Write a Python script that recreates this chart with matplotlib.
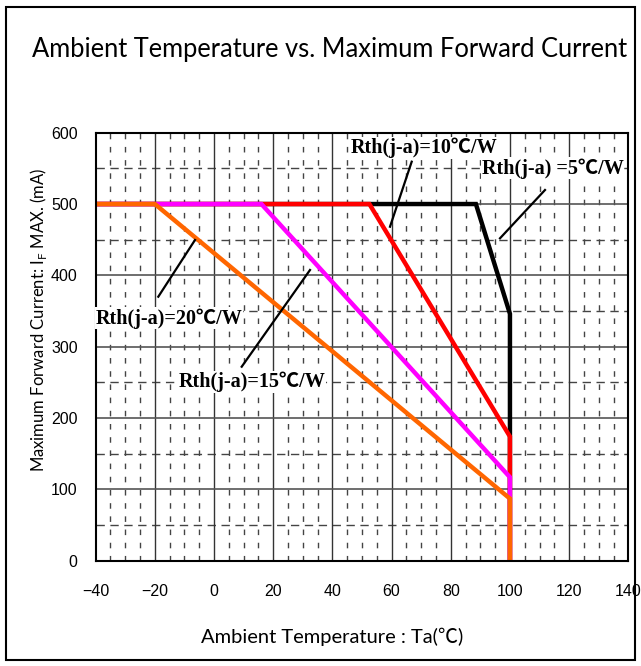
import matplotlib
matplotlib.use("Agg")
import matplotlib.pyplot as plt
from matplotlib.patches import Rectangle
import numpy as np

# Data (derating curves): Ta (°C) vs IF max (mA)
ta_5 = [-40, 88.5, 100, 100]
if_5 = [500, 500, 346, 0]
ta_10 = [-40, 52.5, 100, 100]
if_10 = [500, 500, 174, 0]
ta_15 = [-40, 16, 100, 100]
if_15 = [500, 500, 117, 0]
ta_20 = [-40, -20, 100, 100]
if_20 = [500, 500, 87, 0]

xticks = [-40, -20, 0, 20, 40, 60, 80, 100, 120, 140]
yticks = [0, 100, 200, 300, 400, 500, 600]

W, H = 641, 666
fig = plt.figure(figsize=(W / 100, H / 100), dpi=100)
fig.patch.set_facecolor("white")
fig.patches.append(Rectangle((6 / W, 6 / H), (W - 12) / W, (H - 13) / H,
                             transform=fig.transFigure, fill=False,
                             edgecolor="black", linewidth=1.5))

L, R, T, B = 95.7, 628.3, 132.7, 560.7
ax = fig.add_axes([L / W, 1 - B / H, (R - L) / W, (B - T) / H])
ax.set_xlim(-40, 140)
ax.set_ylim(0, 600)

# grid
for x in np.arange(-35, 140, 5):
    if x % 20 != 0:
        ax.axvline(x, color="#444444", lw=1.0, ls=(0, (4, 5.5)), zorder=1)
for y in [50, 150, 250, 350, 450, 550]:
    ax.axhline(y, color="#444444", lw=1.0, ls=(0, (6, 4)), zorder=1)
for x in xticks[1:-1]:
    ax.axvline(x, color="#333333", lw=1.0, zorder=1.5)
for y in yticks[1:-1]:
    ax.axhline(y, color="#555555", lw=1.2, zorder=1.5)

lw = 3.2
ax.plot(ta_5, if_5, color="black", lw=lw, zorder=3, solid_joinstyle="miter")
ax.plot(ta_10, if_10, color="#ff0000", lw=lw, zorder=4, solid_joinstyle="miter")
ax.plot(ta_15, if_15, color="#ff00ff", lw=lw, zorder=5, solid_joinstyle="miter")
ax.plot(ta_20, if_20, color="#ff6600", lw=lw, zorder=6, solid_joinstyle="miter")

for s in ax.spines.values():
    s.set_linewidth(1.5)
    s.set_color("black")
    s.set_zorder(7)

ax.set_xticks(xticks)
ax.set_yticks(yticks)
ax.set_xticklabels([("\u2212" + str(-v)) if v < 0 else str(v) for v in xticks])
ax.tick_params(length=0, labelsize=11.5)
ax.tick_params(axis="x", pad=17)
ax.tick_params(axis="y", pad=13)
for t in ax.get_xticklabels() + ax.get_yticklabels():
    t.set_family(["Liberation Sans", "DejaVu Sans"])

# annotations
def px2data(px, py):
    return (-40 + (px - L) / (R - L) * 180, (B - py) / (B - T) * 600)

lab_font = dict(family=["Liberation Serif", "Noto Sans CJK JP"], weight="bold",
                fontsize=14.5, zorder=8)
bbox = dict(facecolor="white", edgecolor="none", pad=0.5)

def label(text, px, py, ha="left"):
    x, y = px2data(px, py)
    ax.text(x, y, text, ha=ha, va="center", bbox=bbox, **lab_font)

def leader(p1, p2):
    a = px2data(*p1)
    b = px2data(*p2)
    ax.plot([a[0], b[0]], [a[1], b[1]], color="black", lw=1.6, zorder=7)

leader((411.7, 161.7), (390, 226.7))
leader((545, 190), (500, 238.3))
leader((158.3, 296.7), (195, 240))
leader((241.7, 366.7), (310, 270))

label("Rth(j-a)=10\u2103/W", 350.7, 148)
label("Rth(j-a) =5\u2103/W", 481.7, 168.3)
label("Rth(j-a)=20\u2103/W", 95.7, 318.3)
label("Rth(j-a)=15\u2103/W", 178.3, 381.7)

title_font = ["Lato", "DejaVu Sans"]
fig.text(32 / W, 1 - 49 / H, "Ambient Temperature vs. Maximum Forward Current",
         ha="left", va="center", fontsize=18.4, family=title_font)
fig.text(332 / W, 1 - 637 / H, "Ambient Temperature : Ta(\u2103)",
         ha="center", va="center", fontsize=14.5, family=["Lato", "Noto Sans CJK JP"])
fig.text(39 / W, 1 - 320 / H, "Maximum Forward Current: I$_\\mathregular{F}$ MAX. (mA)",
         ha="center", va="center", rotation=90, fontsize=12, family=title_font)

fig.savefig("out.png", dpi=100)
